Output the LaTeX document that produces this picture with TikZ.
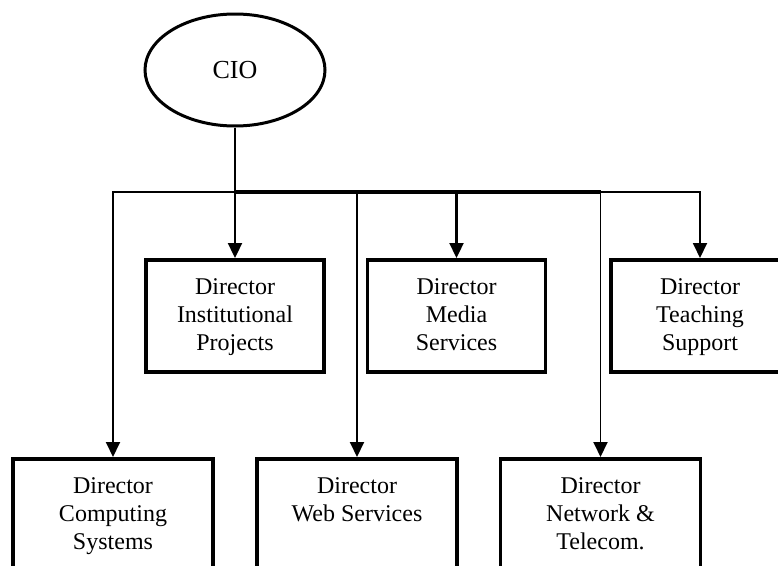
\documentclass[tikz,border=0pt]{standalone}
\usepackage{fontspec}
\setmainfont{Liberation Serif}
\usetikzlibrary{shapes.geometric,arrows.meta}
\newcommand\dirtext[1]{\begin{tabular}[t]{@{}c@{}}#1\end{tabular}}
\begin{document}
\begin{tikzpicture}[x=1pt,y=-1pt,
  dirbox/.style={draw,line width=3.5pt,rectangle,anchor=north,inner sep=0pt,
     font=\fontsize{24}{28}\selectfont,text height=34.7pt,text depth=77.3pt},
  topbox/.style={dirbox,minimum width=178pt},
  lowbox/.style={dirbox,minimum width=200pt},
  ciobox/.style={draw,ellipse,line width=3pt,minimum width=180pt,minimum height=112pt,
     inner sep=0pt,font=\fontsize{26}{30}\selectfont},
  stem/.style={line width=2.3pt},
  bus/.style={line width=4pt},
  thinbus/.style={line width=1.9pt,-{Triangle[length=15pt,width=14pt]}},
  arr/.style={line width=2.3pt,-{Triangle[length=15pt,width=14pt]}}
]
\clip (0,0) rectangle (778,565);
\fill[white] (0,0) rectangle (778,565);

\node[ciobox] (cio) at (235,70) {CIO};

\node[topbox] (inst)  at (235,258)   {\dirtext{Director\\Institutional\\Projects}};
\node[topbox] (media) at (456.5,258) {\dirtext{Director\\Media\\Services}};
\node[topbox] (teach) at (700,258)   {\dirtext{Director\\Teaching\\Support}};

\node[lowbox] (comp) at (113,457)   {\dirtext{Director\\Computing\\Systems}};
\node[lowbox] (web)  at (357,457)   {\dirtext{Director\\Web Services}};
\node[lowbox] (net)  at (600.5,457) {\dirtext{Director\\Network \&\\Telecom.}};

\coordinate (j2) at (235,192);
\coordinate (j3) at (357,192);
\coordinate (j4) at (456.5,192);
\coordinate (j5) at (600.5,192);

\draw[stem] (cio.south) -- (j2);
\draw[bus] (j2) -- (j5);
\draw[thinbus] (j2) -| (comp.north);
\draw[thinbus] (j5) -| (teach.north);
\draw[thinbus] (j3) -- (web.north);
\draw[thinbus] (j5) -- (net.north);
\draw[arr] (j2) -- (inst.north);
\draw[arr] (j4) -- (media.north);
\end{tikzpicture}
\end{document}
